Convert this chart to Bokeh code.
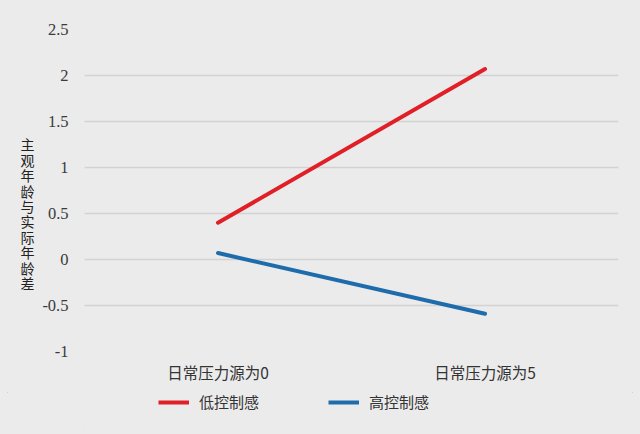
from bokeh.plotting import figure
from bokeh.models import Legend, LegendItem, FixedTicker, Range1d, FactorRange
from bokeh.layouts import column
from bokeh.embed import file_html
from bokeh.resources import INLINE

categories = ["日常压力源为0", "日常压力源为5"]
low_control = [0.40, 2.07]
high_control = [0.07, -0.59]
series_names = ["低控制感", "高控制感"]
series_colors = ["#e01f26", "#1f6cad"]
y_ticks = [-1, -0.5, 0, 0.5, 1, 1.5, 2, 2.5]
y_tick_labels = ["-1", "-0.5", "0", "0.5", "1", "1.5", "2", "2.5"]
y_title = "主观年龄与实际年龄差"

BG = "#ebebeb"
p = figure(width=640, height=392, x_range=categories, y_range=(-1, 2.5),
           output_backend="svg", toolbar_location=None,
           min_border_left=84, min_border_right=22, min_border_top=29, min_border_bottom=41)
p.background_fill_color = BG
p.border_fill_color = BG
p.outline_line_color = None
p.x_range.range_padding = 0

p.xgrid.grid_line_color = None
p.ygrid.grid_line_color = "#d2d2d2"
p.ygrid.grid_line_width = 1.5

p.yaxis.ticker = FixedTicker(ticks=y_ticks)
p.yaxis.major_label_overrides = {t: l for t, l in zip(y_ticks, y_tick_labels)}
for ax in (p.xaxis, p.yaxis):
    ax.axis_line_color = None
    ax.major_tick_line_color = None
    ax.minor_tick_line_color = None
    ax.major_tick_out = 0
    ax.major_tick_in = 0
    ax.minor_tick_out = 0
    ax.minor_tick_in = 0
p.yaxis.major_label_text_font = "Liberation Serif"
p.yaxis.major_label_text_font_size = "16.5px"
p.yaxis.major_label_text_color = "#3a3a3a"
p.yaxis.major_label_standoff = 16
p.yaxis.axis_label = "\n".join([" ", " ", " "] + list(y_title))
p.yaxis.axis_label_orientation = "horizontal"
p.yaxis.axis_label_text_font = "Noto Sans CJK SC"
p.yaxis.axis_label_text_font_size = "14px"
p.yaxis.axis_label_text_font_style = "normal"
p.yaxis.axis_label_text_color = "#222222"
p.yaxis.axis_label_text_line_height = 0.77
p.yaxis.axis_label_standoff = 5
p.xaxis.major_label_text_font = "Noto Sans CJK SC"
p.xaxis.major_label_text_font_size = "15.5px"
p.xaxis.major_label_text_color = "#333333"
p.xaxis.major_label_standoff = 9

p.line(categories, low_control, line_color=series_colors[0], line_width=4, line_cap="round")
p.line(categories, high_control, line_color=series_colors[1], line_width=4, line_cap="round")

# legend strip below the chart (its key lines lie outside this strip's visible y range)
p2 = figure(width=640, height=42, x_range=FactorRange(*categories), y_range=Range1d(10, 11),
            x_axis_type=None, y_axis_type=None,
            output_backend="svg", toolbar_location=None, min_border=0)
p2.background_fill_color = BG
p2.border_fill_color = BG
p2.outline_line_color = None
p2.grid.visible = False
k1 = p2.line(categories, low_control, line_color=series_colors[0], line_width=4)
k2 = p2.line(categories, high_control, line_color=series_colors[1], line_width=4)
legend = Legend(items=[LegendItem(label=series_names[0], renderers=[k1]),
                       LegendItem(label=series_names[1], renderers=[k2])],
                orientation="horizontal", location=(74, 22))
legend.padding = 0
legend.margin = 0
legend.spacing = 69
legend.glyph_width = 31
legend.label_standoff = 10
legend.border_line_color = None
legend.background_fill_alpha = 0
legend.label_text_font = "Noto Sans CJK SC"
legend.label_text_font_size = "15px"
legend.label_text_color = "#333333"
p2.add_layout(legend)

layout = column(p, p2, spacing=0,
                styles={"background-color": BG, "outline": "1px solid #c8c8c8",
                        "outline-offset": "-8px"})
open("out.html", "w").write(file_html(layout, INLINE))
